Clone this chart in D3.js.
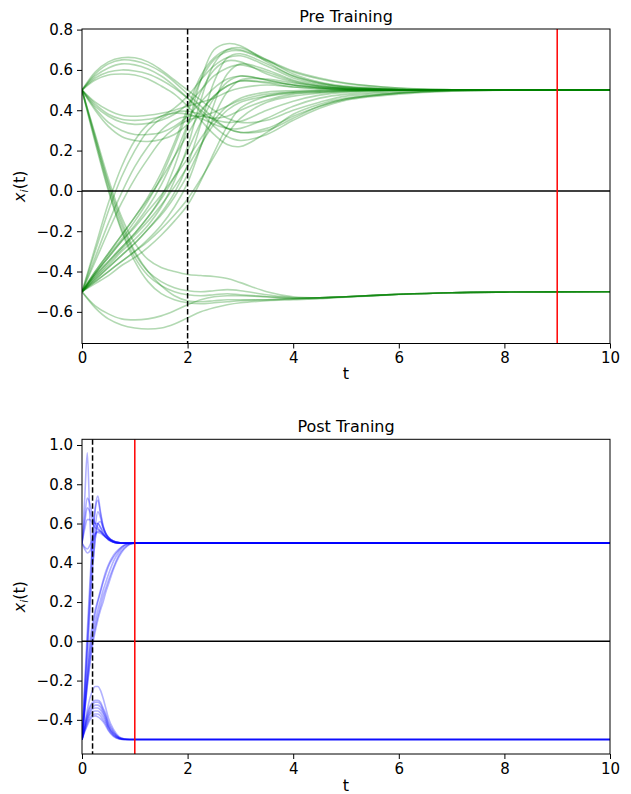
<!DOCTYPE html>
<html><head><meta charset="utf-8">
<script src="https://cdn.jsdelivr.net/npm/d3@7"></script>
<style>body{margin:0;background:#fff} svg{display:block} text{font-family:"DejaVu Sans",sans-serif}</style>
</head><body><svg id="c" width="631" height="794"></svg>
<script>
// ---------- Pre training data ----------
const preTimes = [0, 0.25, 0.5, 0.75, 1, 1.25, 1.5, 1.75, 2, 2.25, 2.5, 2.75, 3, 3.5, 4, 4.5, 5, 6, 7, 8, 10];
const preUpHump = [
  [0.5, 0.59, 0.64, 0.66, 0.66, 0.64, 0.60, 0.55, 0.50, 0.45, 0.40, 0.36, 0.34, 0.35, 0.40, 0.44, 0.47, 0.49, 0.5, 0.5, 0.5],
  [0.5, 0.58, 0.63, 0.65, 0.645, 0.625, 0.59, 0.54, 0.48, 0.42, 0.36, 0.31, 0.29, 0.31, 0.37, 0.42, 0.455, 0.485, 0.497, 0.5, 0.5],
  [0.5, 0.57, 0.61, 0.63, 0.625, 0.605, 0.57, 0.52, 0.46, 0.39, 0.32, 0.27, 0.25, 0.28, 0.35, 0.41, 0.45, 0.48, 0.495, 0.5, 0.5],
  [0.5, 0.56, 0.59, 0.60, 0.595, 0.58, 0.55, 0.51, 0.46, 0.40, 0.35, 0.31, 0.29, 0.30, 0.36, 0.42, 0.455, 0.485, 0.497, 0.5, 0.5],
  [0.5, 0.55, 0.575, 0.58, 0.575, 0.555, 0.52, 0.48, 0.42, 0.35, 0.28, 0.23, 0.22, 0.29, 0.38, 0.43, 0.46, 0.485, 0.497, 0.5, 0.5]
];
const preDipRise = [
  [0.5, 0.43, 0.38, 0.355, 0.35, 0.355, 0.37, 0.41, 0.47, 0.55, 0.62, 0.66, 0.67, 0.62, 0.56, 0.53, 0.515, 0.503, 0.5, 0.5, 0.5],
  [0.5, 0.42, 0.37, 0.34, 0.33, 0.335, 0.35, 0.38, 0.43, 0.50, 0.57, 0.61, 0.625, 0.59, 0.545, 0.52, 0.51, 0.502, 0.5, 0.5, 0.5],
  [0.5, 0.44, 0.40, 0.375, 0.37, 0.375, 0.385, 0.40, 0.42, 0.44, 0.46, 0.49, 0.51, 0.525, 0.515, 0.507, 0.503, 0.5, 0.5, 0.5, 0.5],
  [0.5, 0.40, 0.32, 0.27, 0.25, 0.245, 0.255, 0.28, 0.33, 0.40, 0.47, 0.52, 0.545, 0.535, 0.515, 0.507, 0.502, 0.5, 0.5, 0.5, 0.5],
  [0.5, 0.41, 0.34, 0.30, 0.28, 0.28, 0.29, 0.32, 0.37, 0.44, 0.51, 0.555, 0.57, 0.55, 0.525, 0.512, 0.505, 0.5, 0.5, 0.5, 0.5]
];
const preFall = [
  [0.5, 0.28, 0.06, -0.13, -0.26, -0.34, -0.38, -0.40, -0.415, -0.42, -0.425, -0.435, -0.455, -0.50, -0.525, -0.53, -0.525, -0.513, -0.505, -0.502, -0.5],
  [0.5, 0.26, 0.03, -0.17, -0.31, -0.40, -0.45, -0.48, -0.495, -0.50, -0.495, -0.49, -0.495, -0.515, -0.53, -0.53, -0.525, -0.513, -0.505, -0.502, -0.5],
  [0.5, 0.25, 0.01, -0.19, -0.33, -0.42, -0.47, -0.50, -0.515, -0.52, -0.515, -0.51, -0.515, -0.525, -0.535, -0.532, -0.525, -0.513, -0.505, -0.502, -0.5],
  [0.5, 0.27, 0.04, -0.15, -0.30, -0.40, -0.47, -0.52, -0.545, -0.55, -0.545, -0.54, -0.54, -0.54, -0.535, -0.53, -0.525, -0.513, -0.505, -0.502, -0.5],
  [0.5, 0.24, 0.0, -0.20, -0.35, -0.45, -0.51, -0.54, -0.555, -0.56, -0.555, -0.55, -0.545, -0.54, -0.535, -0.53, -0.525, -0.513, -0.505, -0.502, -0.5]
];
const preDownDip = [
  [-0.5, -0.57, -0.61, -0.635, -0.64, -0.635, -0.62, -0.595, -0.565, -0.54, -0.525, -0.52, -0.52, -0.525, -0.53, -0.53, -0.525, -0.513, -0.505, -0.502, -0.5],
  [-0.5, -0.58, -0.635, -0.665, -0.68, -0.685, -0.68, -0.66, -0.63, -0.60, -0.58, -0.565, -0.555, -0.545, -0.54, -0.535, -0.527, -0.514, -0.505, -0.502, -0.5]
];
const preSteepRise = [
  [-0.5, -0.28, -0.06, 0.12, 0.25, 0.33, 0.37, 0.385, 0.38, 0.36, 0.33, 0.31, 0.31, 0.36, 0.42, 0.46, 0.48, 0.495, 0.5, 0.5, 0.5],
  [-0.5, -0.30, -0.10, 0.07, 0.20, 0.30, 0.36, 0.39, 0.395, 0.38, 0.355, 0.34, 0.345, 0.40, 0.445, 0.475, 0.49, 0.5, 0.5, 0.5, 0.5],
  [-0.5, -0.33, -0.16, -0.01, 0.12, 0.22, 0.30, 0.35, 0.37, 0.37, 0.36, 0.37, 0.40, 0.45, 0.48, 0.49, 0.497, 0.5, 0.5, 0.5, 0.5],
  [-0.5, -0.35, -0.20, -0.06, 0.06, 0.16, 0.25, 0.31, 0.35, 0.37, 0.39, 0.42, 0.45, 0.48, 0.49, 0.497, 0.5, 0.5, 0.5, 0.5, 0.5]
];
const preRise = [
  [-0.5, -0.42, -0.35, -0.28, -0.21, -0.13, -0.03, 0.12, 0.32, 0.55, 0.70, 0.73, 0.72, 0.64, 0.57, 0.535, 0.515, 0.503, 0.5, 0.5, 0.5],
  [-0.5, -0.43, -0.37, -0.30, -0.24, -0.17, -0.08, 0.05, 0.22, 0.45, 0.63, 0.70, 0.71, 0.65, 0.58, 0.54, 0.52, 0.505, 0.5, 0.5, 0.5],
  [-0.5, -0.40, -0.31, -0.22, -0.13, -0.03, 0.09, 0.24, 0.41, 0.57, 0.66, 0.70, 0.70, 0.65, 0.595, 0.56, 0.535, 0.51, 0.502, 0.5, 0.5],
  [-0.5, -0.41, -0.32, -0.24, -0.15, -0.05, 0.07, 0.22, 0.39, 0.55, 0.65, 0.69, 0.695, 0.645, 0.59, 0.555, 0.532, 0.51, 0.502, 0.5, 0.5],
  [-0.5, -0.44, -0.38, -0.32, -0.26, -0.19, -0.11, -0.01, 0.13, 0.33, 0.54, 0.66, 0.68, 0.63, 0.57, 0.535, 0.515, 0.503, 0.5, 0.5, 0.5],
  [-0.5, -0.41, -0.33, -0.25, -0.17, -0.08, 0.03, 0.17, 0.33, 0.49, 0.60, 0.645, 0.64, 0.58, 0.54, 0.52, 0.508, 0.502, 0.5, 0.5, 0.5],
  [-0.5, -0.45, -0.40, -0.35, -0.30, -0.24, -0.17, -0.08, 0.04, 0.22, 0.43, 0.58, 0.63, 0.60, 0.55, 0.525, 0.51, 0.502, 0.5, 0.5, 0.5],
  [-0.5, -0.42, -0.35, -0.28, -0.21, -0.13, -0.04, 0.07, 0.20, 0.34, 0.46, 0.54, 0.57, 0.55, 0.525, 0.512, 0.505, 0.5, 0.5, 0.5, 0.5],
  [-0.5, -0.44, -0.38, -0.32, -0.26, -0.19, -0.12, -0.03, 0.08, 0.22, 0.37, 0.49, 0.55, 0.555, 0.535, 0.518, 0.508, 0.502, 0.5, 0.5, 0.5],
  [-0.5, -0.40, -0.31, -0.22, -0.13, -0.04, 0.06, 0.17, 0.28, 0.39, 0.47, 0.52, 0.545, 0.54, 0.525, 0.512, 0.505, 0.5, 0.5, 0.5, 0.5],
  [-0.5, -0.43, -0.36, -0.29, -0.22, -0.15, -0.07, 0.02, 0.12, 0.23, 0.33, 0.40, 0.44, 0.47, 0.485, 0.49, 0.495, 0.5, 0.5, 0.5, 0.5],
  [-0.5, -0.45, -0.40, -0.35, -0.30, -0.25, -0.19, -0.12, -0.04, 0.06, 0.17, 0.28, 0.36, 0.44, 0.47, 0.485, 0.493, 0.5, 0.5, 0.5, 0.5],
  [-0.5, -0.41, -0.33, -0.25, -0.18, -0.10, -0.02, 0.07, 0.16, 0.26, 0.35, 0.42, 0.46, 0.49, 0.497, 0.5, 0.5, 0.5, 0.5, 0.5, 0.5],
  [-0.5, -0.46, -0.42, -0.37, -0.33, -0.28, -0.22, -0.15, -0.07, 0.05, 0.19, 0.32, 0.41, 0.47, 0.49, 0.495, 0.5, 0.5, 0.5, 0.5, 0.5]
];

// ---------- Post training data ----------
const postTimes = [0, 0.05, 0.1, 0.15, 0.2, 0.25, 0.3, 0.35, 0.4, 0.45, 0.5, 0.6, 0.7, 0.8, 0.9, 1.0, 10];
const postFastRise = [
  [-0.5, -0.25, 0.0, 0.25, 0.5, 0.68, 0.74, 0.66, 0.59, 0.55, 0.53, 0.51, 0.503, 0.5, 0.5, 0.5, 0.5],
  [-0.5, -0.22, 0.05, 0.30, 0.52, 0.67, 0.72, 0.65, 0.585, 0.55, 0.53, 0.51, 0.503, 0.5, 0.5, 0.5, 0.5],
  [-0.5, -0.27, -0.03, 0.20, 0.42, 0.58, 0.66, 0.63, 0.58, 0.55, 0.53, 0.51, 0.503, 0.5, 0.5, 0.5, 0.5],
  [-0.5, -0.30, -0.08, 0.15, 0.36, 0.52, 0.60, 0.61, 0.575, 0.545, 0.525, 0.508, 0.502, 0.5, 0.5, 0.5, 0.5]
];
const postSlowRise = [
  [-0.5, -0.33, -0.16, 0.0, 0.09, 0.16, 0.21, 0.26, 0.31, 0.355, 0.39, 0.44, 0.47, 0.49, 0.498, 0.5, 0.5],
  [-0.5, -0.35, -0.20, -0.07, 0.03, 0.10, 0.16, 0.21, 0.26, 0.30, 0.34, 0.41, 0.455, 0.485, 0.497, 0.5, 0.5],
  [-0.5, -0.36, -0.22, -0.10, 0.0, 0.07, 0.13, 0.18, 0.23, 0.27, 0.31, 0.38, 0.44, 0.475, 0.495, 0.5, 0.5],
  [-0.5, -0.34, -0.18, -0.04, 0.06, 0.14, 0.20, 0.25, 0.30, 0.34, 0.38, 0.43, 0.465, 0.49, 0.498, 0.5, 0.5],
  [-0.5, -0.36, -0.23, -0.12, -0.02, 0.05, 0.11, 0.16, 0.20, 0.25, 0.29, 0.37, 0.43, 0.47, 0.493, 0.5, 0.5]
];
const postUpper = [
  [0.5, 0.72, 0.96, 0.62, 0.40, 0.52, 0.60, 0.58, 0.55, 0.535, 0.52, 0.505, 0.5, 0.5, 0.5, 0.5, 0.5],
  [0.5, 0.63, 0.73, 0.70, 0.64, 0.60, 0.58, 0.56, 0.545, 0.53, 0.52, 0.505, 0.5, 0.5, 0.5, 0.5, 0.5],
  [0.5, 0.60, 0.68, 0.66, 0.62, 0.60, 0.60, 0.58, 0.56, 0.54, 0.525, 0.51, 0.502, 0.5, 0.5, 0.5, 0.5],
  [0.5, 0.57, 0.62, 0.62, 0.60, 0.58, 0.57, 0.56, 0.545, 0.53, 0.52, 0.505, 0.5, 0.5, 0.5, 0.5, 0.5],
  [0.5, 0.47, 0.45, 0.46, 0.50, 0.54, 0.56, 0.56, 0.545, 0.53, 0.52, 0.505, 0.5, 0.5, 0.5, 0.5, 0.5],
  [0.5, 0.48, 0.47, 0.49, 0.52, 0.55, 0.555, 0.55, 0.54, 0.53, 0.515, 0.505, 0.5, 0.5, 0.5, 0.5, 0.5]
];
const postLower = [
  [-0.5, -0.42, -0.35, -0.29, -0.25, -0.23, -0.23, -0.25, -0.29, -0.34, -0.39, -0.45, -0.485, -0.497, -0.5, -0.5, -0.5],
  [-0.5, -0.43, -0.37, -0.33, -0.31, -0.30, -0.30, -0.31, -0.34, -0.37, -0.41, -0.46, -0.49, -0.498, -0.5, -0.5, -0.5],
  [-0.5, -0.44, -0.38, -0.34, -0.32, -0.31, -0.31, -0.32, -0.35, -0.38, -0.42, -0.465, -0.49, -0.498, -0.5, -0.5, -0.5],
  [-0.5, -0.44, -0.39, -0.355, -0.335, -0.325, -0.325, -0.335, -0.36, -0.39, -0.43, -0.47, -0.492, -0.499, -0.5, -0.5, -0.5],
  [-0.5, -0.45, -0.40, -0.365, -0.345, -0.34, -0.34, -0.35, -0.37, -0.40, -0.435, -0.475, -0.494, -0.5, -0.5, -0.5, -0.5],
  [-0.5, -0.45, -0.41, -0.375, -0.36, -0.355, -0.355, -0.365, -0.385, -0.41, -0.44, -0.478, -0.495, -0.5, -0.5, -0.5, -0.5],
  [-0.5, -0.46, -0.42, -0.39, -0.375, -0.37, -0.37, -0.38, -0.40, -0.42, -0.45, -0.482, -0.496, -0.5, -0.5, -0.5, -0.5],
  [-0.5, -0.46, -0.43, -0.40, -0.385, -0.38, -0.385, -0.395, -0.41, -0.43, -0.455, -0.485, -0.497, -0.5, -0.5, -0.5, -0.5]
];

const xTicks = [0, 2, 4, 6, 8, 10];
const preYTicks = [-0.6, -0.4, -0.2, 0.0, 0.2, 0.4, 0.6, 0.8];
const postYTicks = [-0.4, -0.2, 0.0, 0.2, 0.4, 0.6, 0.8, 1.0];

const svg = d3.select("#c");
const fmt = d => d.toFixed(1).replace("-", "\u2212");

function panel(o) {
  const x = d3.scaleLinear().domain([0, 10]).range([o.left, o.right]);
  const y = d3.scaleLinear().domain(o.yDomain).range([o.bottom, o.top]);
  const g = svg.append("g");
  const clipId = "clip" + o.id;
  svg.append("clipPath").attr("id", clipId).append("rect")
    .attr("x", o.left).attr("y", o.top).attr("width", o.right - o.left).attr("height", o.bottom - o.top);
  const lineGen = d3.line().x((d, i) => x(o.times[i])).y(d => y(d)).curve(o.curve);
  const lg = g.append("g").attr("clip-path", `url(#${clipId})`);
  o.series.forEach(s => {
    lg.append("path").attr("d", lineGen(s)).attr("fill", "none")
      .attr("stroke", o.color).attr("stroke-opacity", 0.3).attr("stroke-width", 1.6);
  });
  lg.append("line").attr("x1", o.left).attr("x2", o.right).attr("y1", y(0)).attr("y2", y(0))
    .attr("stroke", "#000").attr("stroke-width", 1.5);
  lg.append("line").attr("x1", x(o.dashT)).attr("x2", x(o.dashT)).attr("y1", o.top).attr("y2", o.bottom)
    .attr("stroke", "#000").attr("stroke-width", 1.5).attr("stroke-dasharray", "5.5,2.5");
  lg.append("line").attr("x1", x(o.redT)).attr("x2", x(o.redT)).attr("y1", o.top).attr("y2", o.bottom)
    .attr("stroke", "#ff0000").attr("stroke-width", 1.5);

  const xa = g.append("g").attr("transform", `translate(0,${o.bottom})`)
    .call(d3.axisBottom(x).tickValues(xTicks).tickSize(5).tickPadding(4).tickFormat(d3.format("d")));
  const ya = g.append("g").attr("transform", `translate(${o.left},0)`)
    .call(d3.axisLeft(y).tickValues(o.yTicks).tickSize(5).tickPadding(4).tickFormat(fmt));
  [xa, ya].forEach(a => {
    a.select(".domain").remove();
    a.selectAll("text").attr("font-size", 15).attr("fill", "#000").attr("font-family", "DejaVu Sans");
    a.selectAll("line").attr("stroke", "#000").attr("stroke-width", 1);
  });
  g.append("rect").attr("x", o.left).attr("y", o.top).attr("width", o.right - o.left).attr("height", o.bottom - o.top)
    .attr("fill", "none").attr("stroke", "#000").attr("stroke-width", 1);
  g.append("text").attr("x", (o.left + o.right) / 2).attr("y", o.top - 7).attr("text-anchor", "middle")
    .attr("font-size", 16).text(o.title);
  g.append("text").attr("x", (o.left + o.right) / 2).attr("y", o.bottom + o.tGap).attr("text-anchor", "middle")
    .attr("font-size", 16).text("t");
  const yl = g.append("text").attr("transform", `translate(25,${(o.top + o.bottom) / 2}) rotate(-90)`)
    .attr("text-anchor", "middle").attr("font-size", 16);
  yl.append("tspan").attr("font-style", "italic").text("x");
  yl.append("tspan").attr("font-style", "italic").attr("font-size", 11).attr("dy", 3).text("i");
  yl.append("tspan").attr("dy", -3).text("(t)");
}

panel({
  id: 1, left: 82, right: 610, top: 29, bottom: 343.5, yDomain: [-0.757, 0.803], tGap: 35,
  yTicks: preYTicks, times: preTimes, color: "#008000", dashT: 2, redT: 9, title: "Pre Training",
  curve: d3.curveCatmullRom.alpha(0.5),
  series: [].concat(preUpHump, preDipRise, preFall, preDownDip, preSteepRise, preRise)
});
panel({
  id: 2, left: 82, right: 610, top: 439.3, bottom: 754, yDomain: [-0.574, 1.029], tGap: 37,
  yTicks: postYTicks, times: postTimes, color: "#0000ff", dashT: 0.2, redT: 1, title: "Post Traning",
  curve: d3.curveMonotoneX,
  series: [].concat(postFastRise, postSlowRise, postUpper, postLower)
});
</script></body></html>
